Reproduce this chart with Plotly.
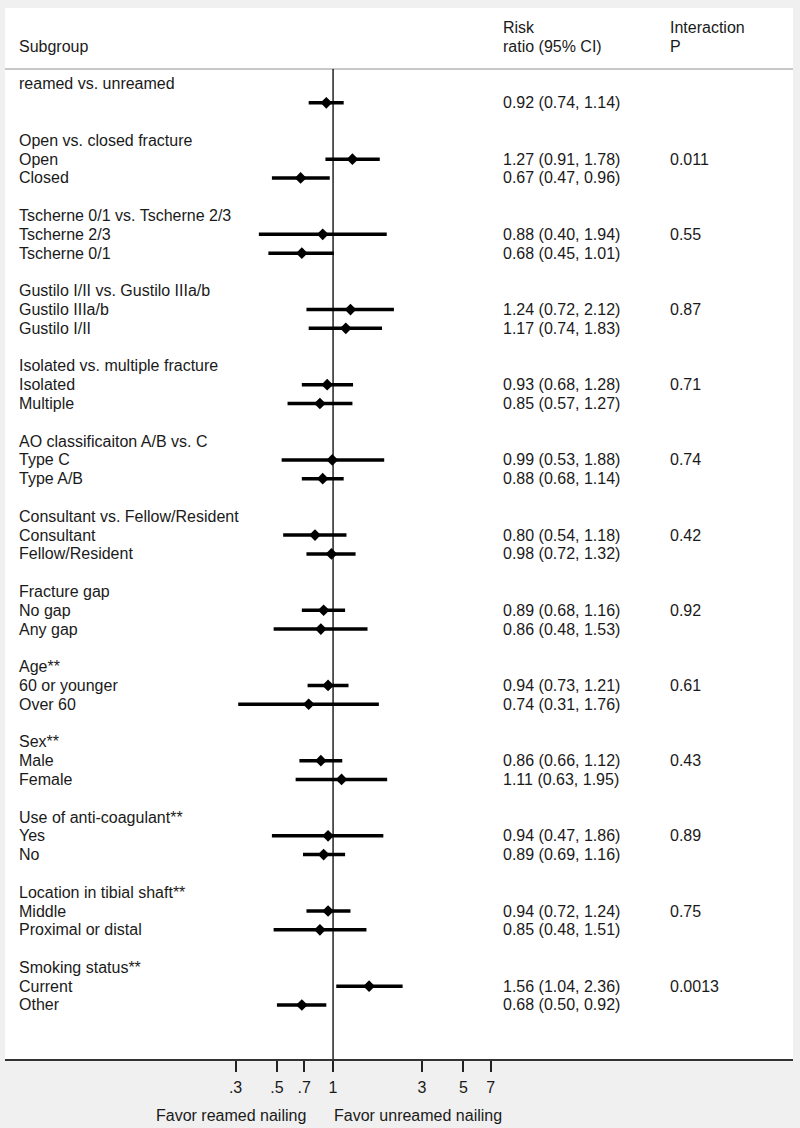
import plotly.graph_objects as go

# group headers and the number of subgroups under each one
group_titles = [
    "reamed vs. unreamed",
    "Open vs. closed fracture",
    "Tscherne 0/1 vs. Tscherne 2/3",
    "Gustilo I/II vs. Gustilo IIIa/b",
    "Isolated vs. multiple fracture",
    "AO classificaiton A/B vs. C",
    "Consultant vs. Fellow/Resident",
    "Fracture gap",
    "Age**",
    "Sex**",
    "Use of anti-coagulant**",
    "Location in tibial shaft**",
    "Smoking status**",
]
group_sizes = [1, 2, 2, 2, 2, 2, 2, 2, 2, 2, 2, 2, 2]

sub_labels = [
    "",
    "Open", "Closed",
    "Tscherne 2/3", "Tscherne 0/1",
    "Gustilo IIIa/b", "Gustilo I/II",
    "Isolated", "Multiple",
    "Type C", "Type A/B",
    "Consultant", "Fellow/Resident",
    "No gap", "Any gap",
    "60 or younger", "Over 60",
    "Male", "Female",
    "Yes", "No",
    "Middle", "Proximal or distal",
    "Current", "Other",
]
rr = [0.92, 1.27, 0.67, 0.88, 0.68, 1.24, 1.17, 0.93, 0.85, 0.99, 0.88, 0.80, 0.98,
      0.89, 0.86, 0.94, 0.74, 0.86, 1.11, 0.94, 0.89, 0.94, 0.85, 1.56, 0.68]
ci_low = [0.74, 0.91, 0.47, 0.40, 0.45, 0.72, 0.74, 0.68, 0.57, 0.53, 0.68, 0.54, 0.72,
          0.68, 0.48, 0.73, 0.31, 0.66, 0.63, 0.47, 0.69, 0.72, 0.48, 1.04, 0.50]
ci_high = [1.14, 1.78, 0.96, 1.94, 1.01, 2.12, 1.83, 1.28, 1.27, 1.88, 1.14, 1.18, 1.32,
           1.16, 1.53, 1.21, 1.76, 1.12, 1.95, 1.86, 1.16, 1.24, 1.51, 2.36, 0.92]
p_interaction = ["", "0.011", "", "0.55", "", "0.87", "", "0.71", "", "0.74", "", "0.42", "",
                 "0.92", "", "0.61", "", "0.43", "", "0.89", "", "0.75", "", "0.0013", ""]

tick_vals = [0.3, 0.5, 0.7, 1, 3, 5, 7]
tick_text = [".3", ".5", ".7", "1", "3", "5", "7"]

FONT = "Arial, Liberation Sans, sans-serif"
TXT = "#1a1a1a"
X_LABEL, X_CI, X_P = 0.0152, 0.6295, 0.8415

# work out a row number for every header and estimate
header_rows, est_rows = [], []
row = 0
for n in group_sizes:
    header_rows.append(row)
    est_rows.extend(range(row + 1, row + 1 + n))
    row += n + 2

ci_x, ci_y = [], []
for lo, hi, r in zip(ci_low, ci_high, est_rows):
    ci_x += [lo, hi, None]
    ci_y += [r, r, None]

fig = go.Figure()
fig.add_trace(go.Scatter(x=ci_x, y=ci_y, mode="lines",
                         line=dict(color="black", width=3.5), hoverinfo="skip"))
fig.add_trace(go.Scatter(x=rr, y=est_rows, mode="markers",
                         marker=dict(symbol="diamond", size=9, color="black")))

ann = []
def text(x, y, s, **kw):
    ann.append(dict(x=x, y=y, xref="paper", yref="y", text=s, showarrow=False,
                    xanchor="left", yanchor="middle",
                    font=dict(size=16, color=TXT, family=FONT), **kw))

for t, r in zip(group_titles, header_rows):
    text(X_LABEL, r, t)
for lab, r, v, lo, hi, p in zip(sub_labels, est_rows, rr, ci_low, ci_high, p_interaction):
    if lab:
        text(X_LABEL, r, lab)
    text(X_CI, r, f"{v:.2f} ({lo:.2f}, {hi:.2f})")
    if p:
        text(X_P, r, p)

# column headers
text(X_LABEL, -1.97, "Subgroup")
text(X_CI, -3.03, "Risk")
text(X_CI, -1.97, "ratio (95% CI)")
text(X_P, -3.03, "Interaction")
text(X_P, -1.97, "P")

# captions under the axis
cap_y = -0.0542
ann.append(dict(x=0.3845, y=cap_y, xref="paper", yref="paper", text="Favor reamed nailing",
                showarrow=False, xanchor="right", yanchor="middle",
                font=dict(size=16, color=TXT, family=FONT)))
ann.append(dict(x=0.415, y=cap_y, xref="paper", yref="paper", text="Favor unreamed nailing",
                showarrow=False, xanchor="left", yanchor="middle",
                font=dict(size=16, color=TXT, family=FONT)))

sep_row = -0.80
y_bottom, y_top = 51.874, -4.043

fig.update_layout(
    width=800, height=1128,
    margin=dict(l=5, r=7, t=8, b=69),
    paper_bgcolor="#f0f0f0",
    plot_bgcolor="white",
    showlegend=False,
    annotations=ann,
    shapes=[
        dict(type="line", xref="paper", yref="y", x0=0, x1=1, y0=sep_row, y1=sep_row,
             line=dict(color="#c8c8c8", width=2)),
        dict(type="line", xref="x", yref="y", x0=1, x1=1, y0=sep_row, y1=y_bottom,
             line=dict(color="black", width=1.3)),
    ],
    xaxis=dict(type="log", range=[-1.759, 2.466], tickvals=tick_vals, ticktext=tick_text,
               ticks="outside", ticklen=11, tickwidth=1.5, tickcolor="#222",
               showline=True, linecolor="#333", linewidth=2, showgrid=False, zeroline=False,
               tickfont=dict(size=16, color=TXT, family=FONT), ticklabelstandoff=2),
    yaxis=dict(range=[y_bottom, y_top], visible=False, showgrid=False, zeroline=False),
)

# drop the page's default body margin so the figure sits at the window's corner
fig.write_html("out.html", config={"displayModeBar": False},
               post_script="document.body.style.margin='0';")
